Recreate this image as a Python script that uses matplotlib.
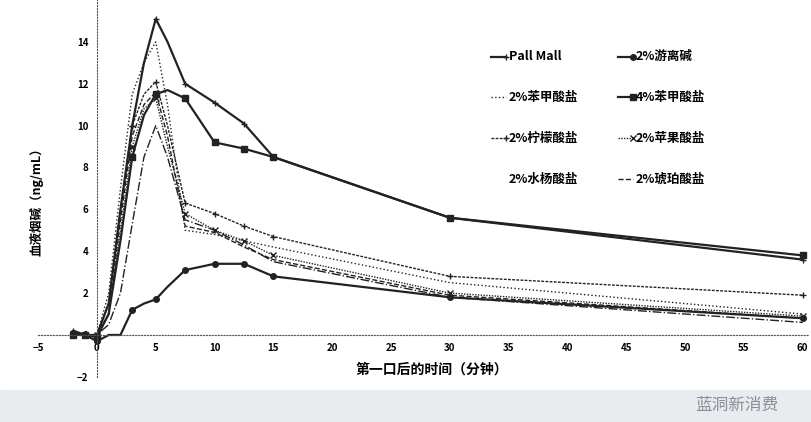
import matplotlib.pyplot as plt
import matplotlib.patches as mpatches

plt.rcParams['font.family'] = ['Noto Sans CJK SC', 'DejaVu Sans']

# minutes after first puff
t = [-2, -1, 0, 1, 2, 3, 4, 5, 6, 7.5, 10, 12.5, 15, 30, 60]

pall_mall = [0.2, 0, 0, 1.5, 6, 10, 13, 15.1, 14, 12, 11.1, 10.1, 8.5, 5.6, 3.6]
free_base = [0.1, 0, -0.3, 0, 0, 1.2, 1.5, 1.7, 2.3, 3.1, 3.4, 3.4, 2.8, 1.8, 0.8]
benz2 = [0, 0, 0, 2, 7, 11.5, 13, 14, 11, 5, 4.8, 4.5, 4.2, 2.5, 1.0]
benz4 = [0, 0, -0.1, 1, 4.5, 8.5, 10.5, 11.5, 11.7, 11.3, 9.2, 8.9, 8.5, 5.6, 3.8]
citrate = [0, 0, 0, 1.5, 6, 10, 11.5, 12.1, 10, 6.3, 5.8, 5.2, 4.7, 2.8, 1.9]
malate = [0, 0, 0, 1, 5, 9, 10.8, 11.3, 9, 5.8, 5, 4.5, 3.8, 2.0, 0.9]
salicylate = [0, 0, 0, 0.5, 2, 5.3, 8.5, 10, 8.5, 5.5, 5, 4.3, 3.5, 1.8, 0.6]
succinate = [0, 0, 0, 1, 5.5, 9.5, 11, 11.6, 9.5, 5.2, 4.9, 4.2, 3.6, 1.9, 0.8]

series = [
    ("Pall Mall", pall_mall, "-", "+", 1.6),
    ("2%游离碱", free_base, "-", "o", 1.6),
    ("2%苯甲酸盐", benz2, ":", "", 1.0),
    ("4%苯甲酸盐", benz4, "-", "s", 1.6),
    ("2%柠檬酸盐", citrate, (0, (2, 1)), "+", 1.0),
    ("2%苹果酸盐", malate, (0, (1, 1)), "x", 1.0),
    ("2%水杨酸盐", salicylate, "-.", "", 1.0),
    ("2%琥珀酸盐", succinate, "--", "", 1.0),
]

fig = plt.figure(figsize=(8.11, 4.22), dpi=100)
fig.patches.append(mpatches.Rectangle((0, 0), 1, 0.075, transform=fig.transFigure,
                                      color="#e8ecef", zorder=0))
ax = fig.add_axes([0.047, 0.107, 0.95, 0.893])
ax.set_xlim(-5, 60.5)
ax.set_ylim(-2, 16)

for name, y, ls, mk, lw in series:
    ax.plot(t, y, color="#222222", linestyle=ls, marker=mk, markersize=4,
            linewidth=lw, markevery=[0, 1, 2, 5, 7, 9, 10, 11, 12, 13, 14])

# axes cross at the origin, drawn dotted
for side in ["top", "right"]:
    ax.spines[side].set_visible(False)
ax.spines["left"].set_position(("data", 0))
ax.spines["bottom"].set_position(("data", 0))
for side in ["left", "bottom"]:
    ax.spines[side].set_linestyle(":")
    ax.spines[side].set_color("#555555")
    ax.spines[side].set_linewidth(0.8)
ax.set_xticks(range(-5, 61, 5))
ax.set_yticks(range(-2, 15, 2))
ax.tick_params(length=0, labelsize=7, pad=6)
for lab in ax.get_xticklabels() + ax.get_yticklabels():
    lab.set_fontweight("bold")

ax.text(28.5, -1.85, "第一口后的时间（分钟）", ha="center", fontsize=10, fontweight="bold")
fig.text(0.045, 0.53, "血液烟碱（ng/mL）", rotation=90, ha="center", va="center",
         fontsize=9, fontweight="bold")

# legend drawn as two columns of text
for i, (name, y, ls, mk, lw) in enumerate(series):
    col, row = i % 2, i // 2
    x0 = 33.5 + col * 10.8
    y0 = 13.3 - row * 1.95
    if name != "2%水杨酸盐":
        ax.plot([x0, x0 + 1.3], [y0, y0], color="#222222", linestyle=ls,
                marker=mk, markevery=[1], markersize=4, linewidth=lw)
    ax.text(x0 + 1.5, y0, name, va="center", fontsize=9, fontweight="bold")

fig.text(0.96, 0.04, "蓝洞新消费", ha="right", va="center", fontsize=12, color="#8a9099")

fig.savefig("out.png")
